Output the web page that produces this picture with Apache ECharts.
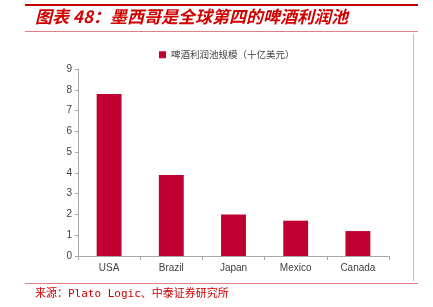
<!DOCTYPE html>
<html><head><meta charset="utf-8">
<script src="https://cdn.jsdelivr.net/npm/echarts@6/dist/echarts.min.js"></script>
<style>html,body{margin:0;padding:0;background:#fff}#c{width:433px;height:307px}</style>
</head><body><div id="c"></div>
<script>
const categories = ['USA', 'Brazil', 'Japan', 'Mexico', 'Canada'];
const values = [7.8, 3.9, 2.0, 1.7, 1.2];
const seriesName = '啤酒利润池规模（十亿美元）';
const titleText = '图表 48：墨西哥是全球第四的啤酒利润池';
const sourceText = '来源：Plato Logic、中泰证券研究所';

const chart = echarts.init(document.getElementById('c'), null, {renderer: 'canvas'});
chart.setOption({
  animation: false,
  backgroundColor: '#fff',
  grid: {left: 78, right: 44, top: 69, bottom: 51},
  legend: {
    data: [seriesName], top: 45, left: 154,
    itemWidth: 7, itemHeight: 7, itemGap: 3,
    icon: 'rect',
    textStyle: {fontFamily: 'Noto Sans CJK SC', fontSize: 9.5, color: '#404040'}
  },
  xAxis: {
    type: 'category', data: categories,
    axisLine: {lineStyle: {color: '#a6a6a6'}},
    axisTick: {show: true, length: 4, lineStyle: {color: '#a6a6a6'}},
    axisLabel: {fontFamily: 'Liberation Sans', fontSize: 10, color: '#404040', margin: 7}
  },
  yAxis: {
    type: 'value', min: 0, max: 9, interval: 1,
    axisLine: {show: true, lineStyle: {color: '#a6a6a6'}},
    axisTick: {show: true, length: 3, lineStyle: {color: '#a6a6a6'}},
    splitLine: {show: false},
    axisLabel: {fontFamily: 'Liberation Sans', fontSize: 10, color: '#404040', margin: 6}
  },
  series: [{
    name: seriesName, type: 'bar', data: values, barWidth: '40%',
    itemStyle: {color: '#c00030'}
  }],
  graphic: [
    {type: 'rect', shape: {x: 25, y: 4, width: 393, height: 2}, style: {fill: '#c00000'}},
    {type: 'text', left: 35, top: 8, style: {text: titleText, fill: '#d00000', font: 'italic bold 17px "Noto Sans CJK SC"'}},
    {type: 'rect', shape: {x: 25, y: 31, width: 393, height: 1}, style: {fill: '#e08080'}},
    {type: 'rect', shape: {x: 413, y: 34, width: 1, height: 247}, style: {fill: '#bfbfbf'}},
    {type: 'rect', shape: {x: 25, y: 283, width: 393, height: 1}, style: {fill: '#e08080'}},
    {type: 'text', left: 35, top: 289, style: {text: sourceText, fill: '#d00000', font: '11px "DejaVu Sans Mono", "Noto Sans CJK SC"'}}
  ]
});
</script></body></html>
